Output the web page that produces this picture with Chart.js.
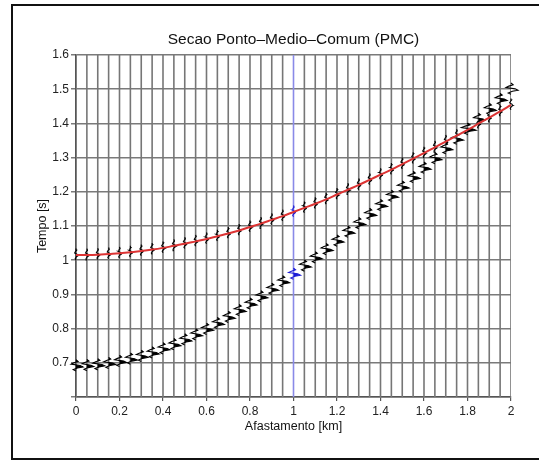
<!DOCTYPE html>
<html>
<head>
<meta charset="utf-8">
<title>Secao PMC</title>
<script src="https://cdn.jsdelivr.net/npm/chart.js@4.4.1/dist/chart.umd.min.js"></script>
<style>
  html, body { margin: 0; padding: 0; background: #fff; }
  #wrap { position: relative; width: 539px; height: 460px; overflow: hidden; }
  #pmc { position: absolute; left: 0; top: 0; }
  #frame { position: absolute; left: 11px; top: 4px; width: 600px; height: 456px;
           box-sizing: border-box; border: 2px solid #111; pointer-events: none; }
</style>
</head>
<body>
<div id="wrap">
  <canvas id="pmc" width="539" height="460"></canvas>
  <div id="frame"></div>
</div>
<script>
// Secao PMC: tracos sismicos (wiggle + area variavel) e hiperbole de referencia em vermelho.
const FONT = "'Liberation Sans', Arial, Helvetica, sans-serif";

// afastamento de cada traco [km]
const offsets = [0, 0.05, 0.1, 0.15, 0.2, 0.25, 0.3, 0.35, 0.4, 0.45, 0.5, 0.55, 0.6, 0.65, 0.7, 0.75,
  0.8, 0.85, 0.9, 0.95, 1.0, 1.05, 1.1, 1.15, 1.2, 1.25, 1.3, 1.35, 1.4, 1.45, 1.5, 1.55, 1.6, 1.65,
  1.7, 1.75, 1.8, 1.85, 1.9, 1.95, 2.0];

// tempo do refletor raso (evento forte) em cada traco [s]
const tEvento1 = [0.690, 0.691, 0.693, 0.697, 0.703, 0.710, 0.718, 0.728, 0.740, 0.752, 0.766, 0.781,
  0.797, 0.814, 0.832, 0.852, 0.871, 0.892, 0.914, 0.936, 0.958, 0.982, 1.006, 1.030, 1.055, 1.081,
  1.106, 1.133, 1.159, 1.186, 1.213, 1.241, 1.268, 1.296, 1.325, 1.353, 1.382, 1.411, 1.440, 1.469, 1.499];

// tempo do refletor profundo (evento fraco) = curva vermelha [s]
const tEvento2 = [1.015, 1.015, 1.016, 1.018, 1.020, 1.023, 1.027, 1.031, 1.036, 1.042, 1.048, 1.055,
  1.062, 1.070, 1.078, 1.087, 1.097, 1.107, 1.118, 1.129, 1.141, 1.153, 1.165, 1.178, 1.192, 1.206,
  1.220, 1.235, 1.250, 1.265, 1.281, 1.297, 1.313, 1.330, 1.347, 1.364, 1.381, 1.399, 1.417, 1.435, 1.454];

// pulso (ondaleta) amostrado: deslocamento em tempo [s] e amplitude normalizada
const pulsoDt  = [-0.014, -0.010, -0.005, -0.002, 0.002, 0.006, 0.010, 0.014, 0.019];
const pulsoAmp = [0, -0.4, 0.2, 1.0, 0.6, -0.7, -0.3, 0.3, 0];

const AMP1 = 0.032;      // ganho do evento 1 [km]
const AMP2 = 0.009;      // ganho do evento 2 [km]
const TRACO_AZUL = 1.0;  // traco destacado

const xTicks = [0, 0.2, 0.4, 0.6, 0.8, 1, 1.2, 1.4, 1.6, 1.8, 2];
const yTicks = [0.6, 0.7, 0.8, 0.9, 1.0, 1.1, 1.2, 1.3, 1.4, 1.5, 1.6];

const fmt = (v) => String(Math.round(v * 10) / 10);

function pulso(dt) {
  const n = pulsoDt.length;
  if (dt <= pulsoDt[0] || dt >= pulsoDt[n - 1]) return 0;
  for (let i = 1; i < n; i++) {
    if (dt <= pulsoDt[i]) {
      const f = (dt - pulsoDt[i - 1]) / (pulsoDt[i] - pulsoDt[i - 1]);
      return pulsoAmp[i - 1] + f * (pulsoAmp[i] - pulsoAmp[i - 1]);
    }
  }
  return 0;
}

// junta eventos que se sobrepoem numa janela so e devolve as curvas do traco
function janelas(x0, eventos) {
  eventos.sort((p, q) => p.t - q.t);
  const wins = [];
  for (const e of eventos) {
    const lo = e.t + pulsoDt[0], hi = e.t + pulsoDt[pulsoDt.length - 1];
    const last = wins[wins.length - 1];
    if (last && lo <= last.hi) { last.hi = Math.max(last.hi, hi); last.ev.push(e); }
    else wins.push({ lo, hi, ev: [e] });
  }
  return wins.map((w) => {
    const ts = new Set();
    w.ev.forEach((e) => pulsoDt.forEach((d) => ts.add(+(e.t + d).toFixed(5))));
    return [...ts].sort((a, b) => a - b)
      .map((t) => ({ x: x0 + w.ev.reduce((s, e) => s + e.a * pulso(t - e.t), 0), y: t }));
  });
}

// lobulos positivos (area preenchida) de uma curva
function lobulos(pts, x0) {
  const out = [];
  let cur = null;
  for (let i = 0; i < pts.length; i++) {
    const p = pts[i], v = p.x - x0;
    if (v > 1e-9) {
      if (!cur) {
        const q = pts[i - 1], vq = q.x - x0, f = vq / (vq - v);
        cur = [{ x: x0, y: q.y + f * (p.y - q.y) }];
      }
      cur.push(p);
    } else if (cur) {
      const q = pts[i - 1], vq = q.x - x0, f = vq / (vq - v);
      cur.push({ x: x0, y: q.y + f * (p.y - q.y) });
      out.push(cur);
      cur = null;
    }
  }
  return out;
}

const base = { showLine: true, pointRadius: 0, pointHitRadius: 0, tension: 0 };
const contornos = [], areas = [], linhas = [];

offsets.forEach((x0, i) => {
  const azul = Math.abs(x0 - TRACO_AZUL) < 1e-6;
  const cor = azul ? "#1c1cd6" : "#000";
  linhas.push({ ...base, data: [{ x: x0, y: 0.6 }, { x: x0, y: 1.6 }],
    borderColor: azul ? "#8a8ae8" : "#767676", borderWidth: 1.6 });
  const curvas = janelas(x0, [{ t: tEvento1[i], a: AMP1 }, { t: tEvento2[i], a: AMP2 }]);
  curvas.forEach((c) => {
    contornos.push({ ...base, data: c, borderColor: cor, borderWidth: 1.1, clip: false });
    lobulos(c, x0).forEach((l) => {
      areas.push({ ...base, data: l, borderWidth: 0, borderColor: "rgba(0,0,0,0)",
        backgroundColor: cor, fill: "shape", clip: false });
    });
  });
});

const curvaVermelha = { ...base, data: offsets.map((x, i) => ({ x, y: tEvento2[i] })),
  borderColor: "#dc3434", borderWidth: 2, tension: 0.4 };

new Chart("pmc", {
  type: "scatter",
  data: { datasets: [curvaVermelha, ...contornos, ...areas, ...linhas] },
  options: {
    responsive: false, animation: false, devicePixelRatio: 1, events: [],
    layout: { padding: { left: 0, right: 28, top: 0, bottom: 0 } },
    plugins: {
      legend: { display: false },
      tooltip: { enabled: false },
      title: { display: true, fullSize: false, text: "Secao Ponto–Medio–Comum (PMC)", color: "#111",
        font: { family: FONT, size: 15.5, weight: "normal" }, padding: { top: 30, bottom: 6.4 } },
    },
    scales: {
      x: {
        type: "linear", min: 0, max: 2,
        afterFit: (s) => { s.height = 63; },
        afterBuildTicks: (s) => { s.ticks = xTicks.map((v) => ({ value: v })); },
        ticks: { color: "#222", padding: 3, maxRotation: 0, autoSkip: false,
          font: { family: FONT, size: 12 }, callback: (v) => fmt(v) },
        grid: { drawOnChartArea: false, drawTicks: true, tickLength: 4, color: "#555", lineWidth: 1.2 },
        border: { display: true, color: "#555", width: 1.5 },
        title: { display: true, text: "Afastamento [km]", color: "#111",
          font: { family: FONT, size: 12.5 }, padding: { top: 0, bottom: 26 } },
      },
      y: {
        type: "linear", min: 0.6, max: 1.6,
        afterFit: (s) => { s.width = 76; },
        afterBuildTicks: (s) => { s.ticks = yTicks.map((v) => ({ value: v })); },
        ticks: { color: "#222", padding: 2, font: { family: FONT, size: 12 },
          callback: (v) => (Math.abs(v - 0.6) < 1e-6 ? "" : fmt(v)) },
        grid: { color: "#7a7a7a", lineWidth: 1.5, tickLength: 5, drawTicks: true },
        border: { display: true, color: "#555", width: 1.5 },
        title: { display: true, text: "Tempo [s]", color: "#111",
          font: { family: FONT, size: 12.5 }, padding: { top: 35, bottom: 0 } },
      },
    },
  },
});
</script>
</body>
</html>
